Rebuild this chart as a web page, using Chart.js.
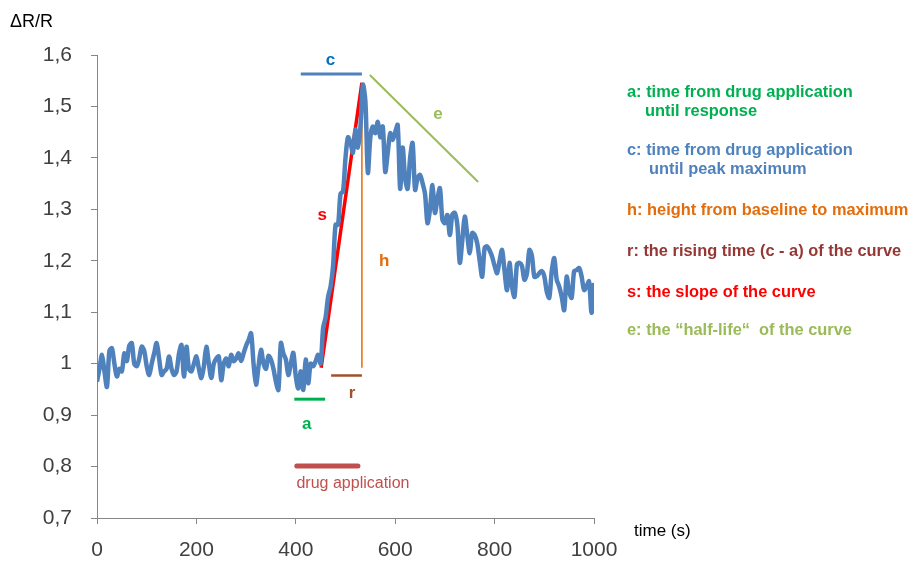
<!DOCTYPE html>
<html>
<head>
<meta charset="utf-8">
<script src="https://cdn.jsdelivr.net/npm/chart.js@4.4.1/dist/chart.umd.min.js"></script>
<style>
  html, body { margin: 0; padding: 0; background: #fff; }
  #wrap { width: 910px; height: 562px; }
</style>
</head>
<body>
<div id="wrap"><canvas id="chart-response" width="910" height="562"></canvas></div>
<script>
// time axis, one sample every 5 s
var sampleStep = 5;
// dR/R, t = 0 .. 1000 s
var ratio = [
    0.965, 0.99, 1.017, 0.985, 0.955, 1.025, 1.03, 1.0, 0.975, 0.99,
    0.985, 1.02, 1.005, 1.035, 1.04, 1.0, 0.995, 1.01, 1.033, 1.025,
    0.995, 0.978, 1.0, 1.02, 1.04, 1.01, 0.978, 0.985, 0.99, 1.014,
    0.99, 0.978, 0.985, 1.02, 1.036, 0.975, 1.033, 0.99, 0.985, 1.0,
    1.014, 0.99, 0.972, 0.995, 1.033, 1.0, 0.972, 1.0, 1.01, 1.014,
    0.968, 1.0, 1.01, 0.995, 1.017, 1.005, 1.01, 1.02, 1.005, 1.02,
    1.035, 1.046, 1.059, 1.0, 0.959, 0.995, 1.027, 1.0, 0.99, 1.015,
    1.008, 0.99, 0.965, 0.949, 1.04, 1.02, 1.008, 0.978, 1.0, 1.021,
    0.975, 0.952, 0.985, 0.949, 1.008, 0.962, 1.0, 0.995, 1.005, 1.017,
    1.0, 1.07, 1.09, 1.13, 1.15, 1.19, 1.27, 1.27, 1.33, 1.335,
    1.40, 1.44, 1.43, 1.41, 1.455, 1.42, 1.46, 1.542, 1.51, 1.371,
    1.44, 1.461, 1.448, 1.47, 1.44, 1.461, 1.373, 1.41, 1.448, 1.435,
    1.45, 1.464, 1.34, 1.42, 1.36, 1.34, 1.40, 1.429, 1.338, 1.36,
    1.367, 1.351, 1.33, 1.273, 1.30, 1.347, 1.293, 1.32, 1.341, 1.28,
    1.273, 1.289, 1.25, 1.29, 1.293, 1.27, 1.196, 1.24, 1.286, 1.25,
    1.215, 1.254, 1.25, 1.234, 1.20, 1.169, 1.225, 1.228, 1.22, 1.208,
    1.19, 1.176, 1.20, 1.221, 1.18, 1.143, 1.196, 1.15, 1.13, 1.193,
    1.196, 1.19, 1.163, 1.175, 1.221, 1.21, 1.169, 1.17, 1.176, 1.18,
    1.17, 1.14, 1.128, 1.18, 1.205, 1.163, 1.15, 1.13, 1.104, 1.169,
    1.14, 1.128, 1.18, 1.182, 1.186, 1.17, 1.143, 1.15, 1.16, 1.099,
    1.157
];

// annotation segments, in data units: [t, ratio]
var segC     = [[410, 1.563], [533, 1.563]];
var segE     = [[549, 1.561], [767, 1.353]];
var segS     = [[451, 0.992], [533, 1.546]];
var segH     = [[533, 1.536], [533, 0.992]];
var segR     = [[471, 0.977], [533, 0.977]];
var segA     = [[397, 0.931], [459, 0.931]];
var segDrug  = [[402, 0.801], [525, 0.801]];

// letters next to the segments: [text, t, ratio, colour]
var markLabels = [
    ["c", 470, 1.590, "#0070C0"],
    ["e", 686, 1.485, "#9BBB59"],
    ["s", 453, 1.289, "#FF0000"],
    ["h", 578, 1.198, "#E46C0A"],
    ["r", 513, 0.943, "#A0522D"],
    ["a", 422, 0.883, "#00B050"]
];

// explanation block on the right
var notes = [
    ["a: time from drug application", "until response", "#00B050"],
    ["c: time from drug application", "until peak maximum", "#4F81BD"],
    ["h: height from baseline to maximum", "", "#E46C0A"],
    ["r: the rising time (c - a) of the curve", "", "#953735"],
    ["s: the slope of the curve", "", "#FF0000"],
    ["e: the \u201chalf-life\u201c  of the curve", "", "#9BBB59"]
];

var xTicks = [0, 200, 400, 600, 800, 1000];
var yMin = 0.7, yMax = 1.6;

function toPoints(seg) {
    return seg.map(function (p) { return { x: p[0], y: p[1] }; });
}

var trace = ratio.map(function (v, i) { return { x: i * sampleStep, y: v }; });

function segDataset(seg, colour, width, cap) {
    return {
	data: toPoints(seg),
	borderColor: colour,
	borderWidth: width,
	borderCapStyle: cap || 'butt',
	pointRadius: 0,
	showLine: true,
	fill: false,
	tension: 0
    };
}

// texts drawn on top of the chart
var textPlugin = {
    id: 'texts',
    afterDatasetsDraw: function (chart) {
	var ctx = chart.ctx;
	var xs = chart.scales.x, ys = chart.scales.y;
	ctx.save();
	ctx.textAlign = 'center';
	ctx.textBaseline = 'middle';
	ctx.font = 'bold 17px "Liberation Sans", Arial, sans-serif';
	markLabels.forEach(function (m) {
	    ctx.fillStyle = m[3];
	    ctx.fillText(m[0], xs.getPixelForValue(m[1]), ys.getPixelForValue(m[2]));
	});

	ctx.font = '16px "Liberation Sans Narrow", "Liberation Sans", Arial, sans-serif';
	ctx.fillStyle = '#C0504D';
	ctx.fillText('drug application', xs.getPixelForValue(515), ys.getPixelForValue(0.766));

	// axis titles
	ctx.fillStyle = '#000';
	ctx.textAlign = 'left';
	ctx.font = '18px "Liberation Sans", Arial, sans-serif';
	ctx.fillText('\u0394R/R', 10, 22);
	ctx.font = '17px "Liberation Sans Narrow", "Liberation Sans", Arial, sans-serif';
	ctx.fillText('time (s)', chart.chartArea.right + 40, 531);

	// notes
	ctx.font = 'bold 16.4px "Liberation Sans", Arial, sans-serif';
	var left = chart.chartArea.right + 33;
	var rows = [92, 150, 210, 251, 292, 330];
	notes.forEach(function (n, i) {
	    ctx.fillStyle = n[2];
	    ctx.fillText(n[0], left, rows[i]);
	    if (n[1]) ctx.fillText(n[1], left + (i == 0 ? 18 : 22), rows[i] + 19);
	});
	ctx.restore();
    }
};

var config = {
    type: 'scatter',
    data: {
	datasets: [
	    {
		data: trace,
		borderColor: '#4F81BD',
		borderWidth: 4.5,
		pointRadius: 0,
		showLine: true,
		fill: false,
		tension: 0.3
	    },
	    segDataset(segC, '#4F81BD', 3),
	    segDataset(segE, '#9BBB59', 2),
	    segDataset(segH, '#E46C0A', 1.5),
	    segDataset(segR, '#A0522D', 2.5),
	    segDataset(segA, '#00B050', 3),
	    segDataset(segDrug, '#C0504D', 5, 'round'),
	    segDataset(segS, '#FF0000', 3.5)
	]
    },
    options: {
	responsive: false,
	animation: false,
	layout: { padding: { left: 0, top: 55, right: 316, bottom: 0 } },
	plugins: {
	    legend: { display: false },
	    tooltip: { enabled: false },
	    title: { display: false }
	},
	scales: {
	    x: {
		type: 'linear',
		min: 0,
		max: 1000,
		afterFit: function (s) { s.height = 44; },
		afterBuildTicks: function (s) {
		    s.ticks = xTicks.map(function (v) { return { value: v }; });
		},
		grid: { drawOnChartArea: false, drawTicks: true, tickLength: 6, color: '#868686' },
		border: { color: '#868686', width: 1 },
		ticks: {
		    color: '#404040',
		    padding: 14,
		    maxRotation: 0,
		    font: { size: 21, family: '"Liberation Sans", Arial, sans-serif' },
		    callback: function (v) { return String(v); }
		}
	    },
	    y: {
		min: yMin,
		max: yMax,
		afterFit: function (s) { s.width = 97; },
		grid: { drawOnChartArea: false, drawTicks: true, tickLength: 6, color: '#868686' },
		border: { color: '#868686', width: 1 },
		ticks: {
		    stepSize: 0.1,
		    color: '#404040',
		    padding: 19,
		    font: { size: 21, family: '"Liberation Sans", Arial, sans-serif' },
		    callback: function (v) {
			return String(Number(v.toFixed(1))).replace('.', ',');
		    }
		}
	    }
	}
    },
    plugins: [textPlugin]
};

window.onload = function () {
    var ctx = document.getElementById("chart-response").getContext("2d");
    window.response = new Chart(ctx, config);
};
</script>
</body>
</html>
